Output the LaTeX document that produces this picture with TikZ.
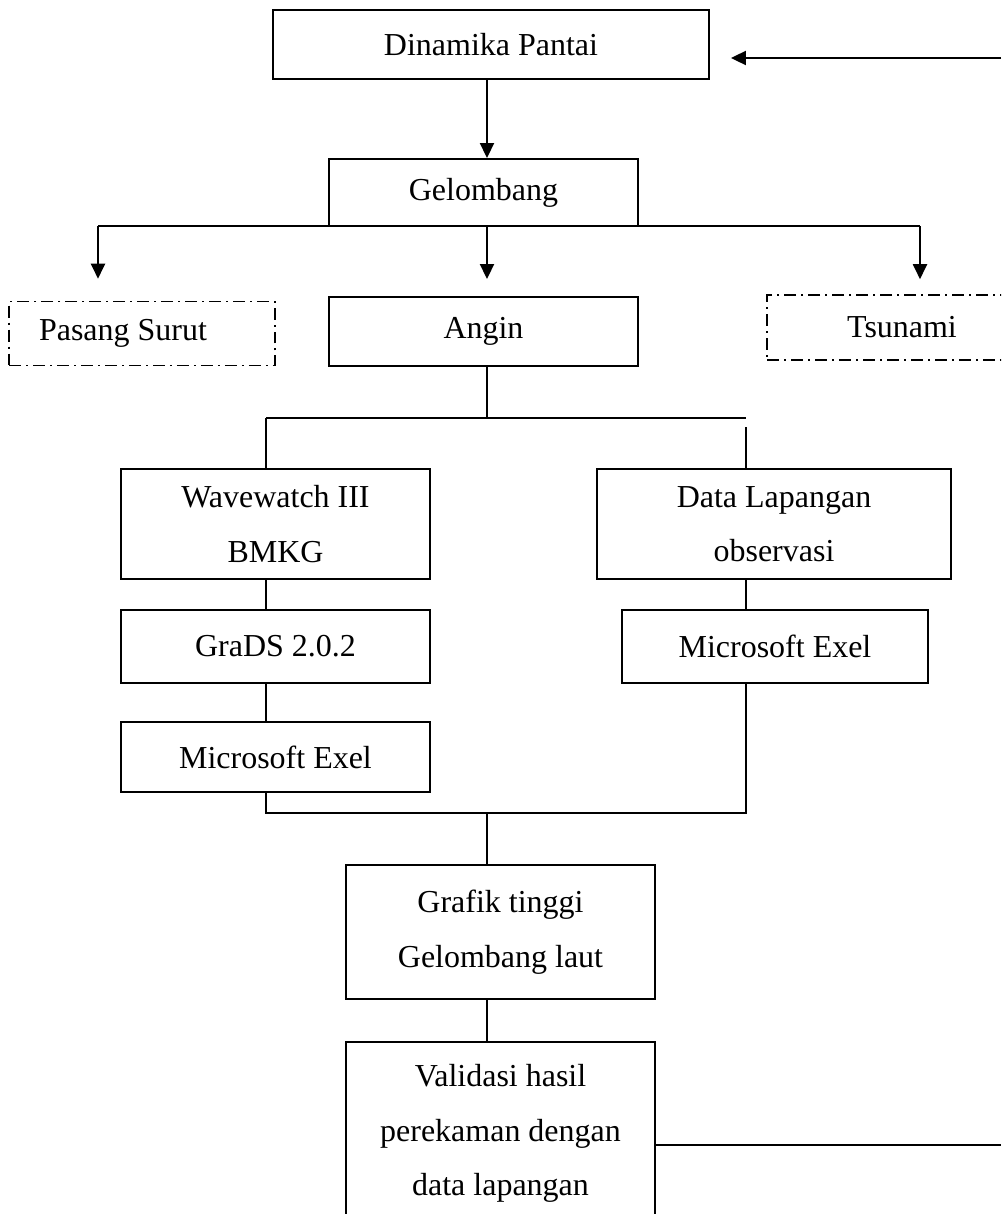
\documentclass[tikz,border=0pt]{standalone}
\usepackage{fontspec}
\setmainfont{Liberation Serif}
\usetikzlibrary{arrows.meta}

\begin{document}
\begin{tikzpicture}[
    x = 0.02cm, y = -0.02cm, % pixel grid, y downwards
    > = {Triangle[length=0.3cm,width=0.28cm]}, % arrow head style
    line width = 1.1pt % line style
    ]

    \tikzset{box/.style={
    draw = black,
    line width = 1.1pt,
    fill = white,
    inner sep = 0pt,
    align = center,
    font = \fontsize{18.2}{31}\selectfont
    }}
    \tikzset{dashbox/.style={box, line width = 0.9pt,
    dash pattern = on 0.24cm off 0.1cm on 0.04cm off 0.1cm}}

    \clip (0,0) rectangle (1001,1214);
    \fill[white] (0,0) rectangle (1001,1214);

    % columns and bus lines
    \coordinate (mid) at (487,0);
    \coordinate (rin) at (1001,58);
    \coordinate (busL) at (98,226);
    \coordinate (busR) at (920,226);
    \coordinate (splitL) at (266,418);
    \coordinate (splitR) at (746,418);
    \coordinate (joinL) at (266,813);
    \coordinate (joinR) at (746,813);
    \coordinate (rout) at (1001,1145);

    \node[box, minimum width=8.72cm, minimum height=1.38cm] (dp) at (491,44.5) {Dinamika Pantai};
    \node[box, minimum width=6.18cm, minimum height=1.34cm] (gl) at (483.5,192.5) {Gelombang};
    \node[dashbox, minimum width=5.32cm, minimum height=1.28cm] (ps) at (142,333.5) {Pasang Surut\hspace{0.76cm}};
    \node[box, minimum width=6.18cm, minimum height=1.38cm] (ag) at (483.5,331.5) {Angin};
    \node[dashbox, minimum width=5.4cm, minimum height=1.3cm] (ts) at (902,327.5) {Tsunami};
    \node[box, minimum width=6.18cm, minimum height=2.2cm] (ww) at (275.5,524) {Wavewatch III\\BMKG};
    \node[box, minimum width=7.08cm, minimum height=2.2cm] (dl) at (774,524) {Data Lapangan\\observasi};
    \node[box, minimum width=6.18cm, minimum height=1.46cm] (gd) at (275.5,646.5) {GraDS 2.0.2};
    \node[box, minimum width=6.18cm, minimum height=1.4cm] (me1) at (275.5,757) {Microsoft Exel};
    \node[box, minimum width=6.12cm, minimum height=1.46cm] (me2) at (775,646.5) {Microsoft Exel};
    \node[box, minimum width=6.18cm, minimum height=2.68cm] (gr) at (500.5,932) {Grafik tinggi\\Gelombang laut};
    \node[box, minimum width=6.18cm, minimum height=3.66cm] (vd) at (500.5,1133.5) {Validasi hasil\\perekaman dengan\\data lapangan};

    \draw[->, shorten >=0.42cm] (rin) -- (rin -| dp.east);
    \draw[->] (dp.south -| mid) -- (gl.north -| mid);
    \draw (busL) -- (busR);
    \draw[->, shorten >=0.44cm] (busL) -- (busL |- ps.north);
    \draw[->, shorten >=0.34cm] (gl.south -| mid) -- (ag.north -| mid);
    \draw[->, shorten >=0.3cm] (busR) -- (busR |- ts.north);

    \draw (ag.south -| mid) -- (mid |- splitL);
    \draw (splitL) -- (splitR);
    \draw (splitL) -- (splitL |- ww.north);
    \draw ([yshift=-0.18cm]splitR) -- (splitR |- dl.north);
    \draw (ww.south -| splitL) -- (gd.north -| splitL);
    \draw (gd.south -| splitL) -- (me1.north -| splitL);
    \draw (dl.south -| splitR) -- (me2.north -| splitR);
    \draw (me1.south -| joinL) -- (joinL) -- (joinR) -- (me2.south -| joinR);

    \draw (mid |- joinL) -- (gr.north -| mid);
    \draw (gr.south -| mid) -- (vd.north -| mid);
    \draw (vd.east |- rout) -- (rout);
\end{tikzpicture}
\end{document}
